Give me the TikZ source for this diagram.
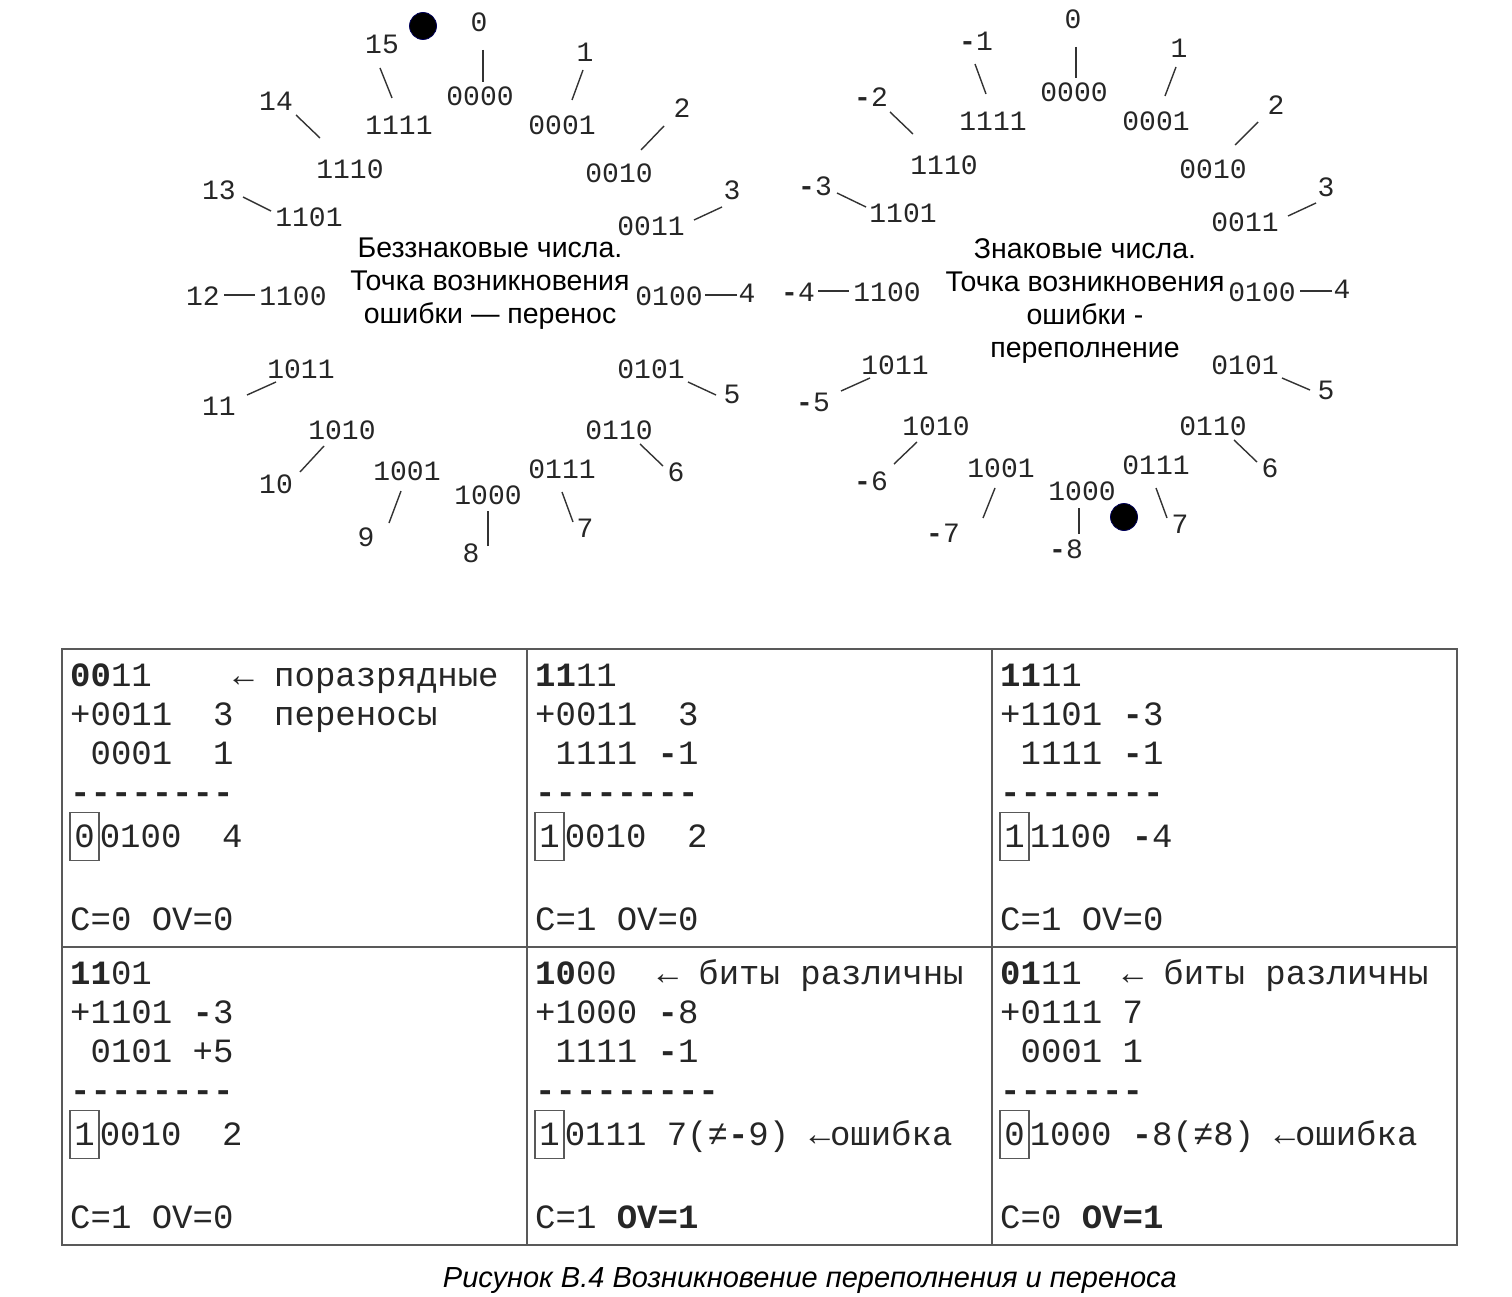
\documentclass[tikz,border=0pt]{standalone}
\usepackage{fontspec}
\setmainfont{Liberation Sans}
\setmonofont{Liberation Mono}
\newcommand\sm{{\bfseries -}}
\newcommand\dsh{-{}}
\tikzset{
  ring/.style={font=\ttfamily\fontsize{28}{28}\selectfont, inner sep=0pt, text=black!85},
  conn/.style={line width=1.4pt, black!80},
  tt/.style={font=\ttfamily\fontsize{34}{34}\selectfont, anchor=base west, inner sep=0pt, text=black!85},
  bx/.style={font=\ttfamily\fontsize{34}{34}\selectfont, anchor=base, inner xsep=0pt, inner ysep=13.5pt,
     minimum width=29pt, text height=21pt, text depth=0pt, draw=black!65, line width=1.2pt, text=black!85},
  tline/.style={line width=1.6pt, black!65},
  dot/.style={circle, fill=black, draw=blue!35!black, line width=0.8pt, minimum size=27pt, inner sep=0pt},
  sans/.style={font=\fontsize{28.5}{33}\selectfont, align=center, inner sep=0pt}
}
\newcommand\cella[7]{%
  \node[tt] (#3-1) at (#1,#2) {#4};
  \node[tt] (#3-2) at (#1,#2+39) {#5};
  \node[tt] (#3-3) at (#1,#2+78) {#6};
  \node[tt] (#3-4) at (#1,#2+117) {#7};}
\newcommand\cellb[6]{%
  \node[bx] (#3-b) at (#1+14.5,#2+161) {#4};
  \node[tt] (#3-5) at (#3-b.base east) {#5};
  \node[tt] (#3-6) at (#1,#2+244) {#6};}
\begin{document}
\begin{tikzpicture}[x=1pt,y=-1pt]
\useasboundingbox (0,0) rectangle (1512,1297);
\fill[white] (0,0) rectangle (1512,1297);

% left ring (unsigned)
\foreach \cd/\lb/\nx/\ny/\cx/\cy/\ax/\ay/\bx/\by in {
0000/0/479/22/480/96/483/50/483/82,
0001/1/585/52/562/125/583/70/572/100,
0010/2/682/108/619/173/664/126/641/150,
0011/3/732/190/651/226/722/207/694/220,
0100/4/747/293/669/296/737/295/705/295,
0101/5/732/394/651/369/716/395/688/382,
0110/6/676/472/619/430/663/466/640/444,
0111/7/585/528/562/469/573/522/562/492,
1000/8/471/553/488/495/488/546/488/511,
1001/9/366/537/407/471/389/523/401/491,
1010/10/276/484/342/430/300/472/324/446,
1011/11/219/406/301/369/247/395/276/382,
1100/12/203/296/293/296/224/295/255/295,
1101/13/219/190/309/217/243/197/271/211,
1110/14/276/101/350/169/296/115/320/138,
1111/15/382/44/399/125/380/68/392/98}
{
  \node[ring] (L\cd) at (\cx,\cy) {\cd};
  \node[ring] (LN\cd) at (\nx,\ny) {\lb};
  \draw[conn] ([shift={(\ax-\nx,\ay-\ny)}]LN\cd.center) -- ([shift={(\bx-\cx,\by-\cy)}]L\cd.center);
}
\node[dot] (dotL) at (423,26) {};
\node[sans] (ltxt) at (490,284) {Беззнаковые числа.\\Точка возникновения\\ошибки — перенос};

% right ring (signed)
\foreach \cd/\lb/\nx/\ny/\cx/\cy/\ax/\ay/\bx/\by in {
0000/0/1073/19/1074/92/1076/47/1076/78,
0001/1/1179/48/1156/121/1176/67/1165/96,
0010/2/1276/105/1213/169/1258/122/1235/145,
0011/3/1326/187/1245/222/1316/203/1288/216,
0100/4/1342/289/1262/292/1332/291/1300/291,
0101/5/1326/390/1245/365/1310/390/1282/378,
0110/6/1270/468/1213/426/1257/462/1234/440,
0111/7/1180/524/1156/465/1167/518/1156/488,
1000/\sm8/1066/549/1082/491/1079/534/1079/508,
1001/\sm7/943/533/1001/468/983/518/995/488,
1010/\sm6/871/481/936/426/894/464/917/442,
1011/\sm5/813/402/895/365/841/391/870/378,
1100/\sm4/798/292/887/292/818/291/849/291,
1101/\sm3/815/186/903/213/837/193/866/207,
1110/\sm2/871/97/944/165/890/112/913/134,
1111/\sm1/976/41/993/121/975/64/986/94}
{
  \node[ring] (R\cd) at (\cx,\cy) {\cd};
  \node[ring] (RN\cd) at (\nx,\ny) {\lb};
  \draw[conn] ([shift={(\ax-\nx,\ay-\ny)}]RN\cd.center) -- ([shift={(\bx-\cx,\by-\cy)}]R\cd.center);
}
\node[dot] (dotR) at (1124,517) {};
\node[sans] (rtxt) at (1085,301) {Знаковые числа.\\Точка возникновения\\ошибки -\\переполнение};

% table
\draw[tline] (62,649) rectangle (1457,1245);
\draw[tline] (62,947) -- (1457,947);
\draw[tline] (527,649) -- (527,1245);
\draw[tline] (992,649) -- (992,1245);

\cella{70}{686}{A}{\textbf{00}11~~~~←~поразрядные}{+0011~~3~~переносы}{~0001~~1}{\textbf{\dsh\dsh\dsh\dsh\dsh\dsh\dsh\dsh}}
\cellb{70}{686}{A}{0}{0100~~4}{C=0~OV=0}
\cella{535}{686}{B}{\textbf{11}11}{+0011~~3}{~1111~\sm1}{\textbf{\dsh\dsh\dsh\dsh\dsh\dsh\dsh\dsh}}
\cellb{535}{686}{B}{1}{0010~~2}{C=1~OV=0}
\cella{1000}{686}{C}{\textbf{11}11}{+1101~\sm3}{~1111~\sm1}{\textbf{\dsh\dsh\dsh\dsh\dsh\dsh\dsh\dsh}}
\cellb{1000}{686}{C}{1}{1100~\sm4}{C=1~OV=0}

\cella{70}{984}{D}{\textbf{11}01}{+1101~\sm3}{~0101~+5}{\textbf{\dsh\dsh\dsh\dsh\dsh\dsh\dsh\dsh}}
\cellb{70}{984}{D}{1}{0010~~2}{C=1~OV=0}
\cella{535}{984}{E}{\textbf{10}00~~←~биты~различны}{+1000~\sm8}{~1111~\sm1}{\textbf{\dsh\dsh\dsh\dsh\dsh\dsh\dsh\dsh\dsh}}
\cellb{535}{984}{E}{1}{0111~7(≠\sm9)~←ошибка}{C=1~\textbf{OV=1}}
\cella{1000}{984}{F}{\textbf{01}11~~←~биты~различны}{+0111~7}{~0001~1}{\textbf{\dsh\dsh\dsh\dsh\dsh\dsh\dsh}}
\cellb{1000}{984}{F}{0}{1000~\sm8(≠8)~←ошибка}{C=0~\textbf{OV=1}}

\node[font=\fontsize{29}{29}\selectfont\itshape, inner sep=0pt] (cap) at (810,1281) {Рисунок В.4 Возникновение переполнения и переноса};
\end{tikzpicture}
\end{document}
